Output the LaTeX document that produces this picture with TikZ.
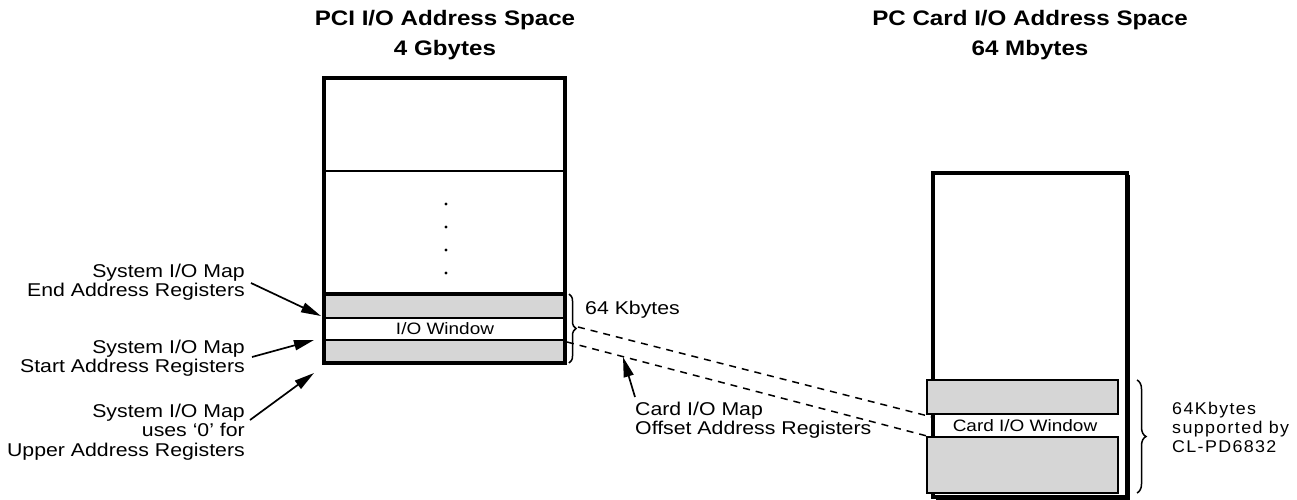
\documentclass[tikz,border=0pt]{standalone}
\usepackage{fontspec}
\setmainfont{Liberation Sans}
\newfontfamily\widefont[FakeStretch=1.15]{Liberation Sans}
\newfontfamily\spacedfont[LetterSpace=8,FakeStretch=1.05]{Liberation Sans}
\usetikzlibrary{arrows.meta,decorations.pathreplacing}
\begin{document}
\begin{tikzpicture}[x=1pt,y=-1pt,
  title/.style={font=\widefont\bfseries\fontsize{21}{30}\selectfont, align=center, inner sep=0pt},
  lbl/.style={font=\widefont\fontsize{18.5}{19.5}\selectfont, inner sep=0pt},
  winlbl/.style={font=\widefont\fontsize{16.5}{18}\selectfont, inner sep=0pt},
  outline/.style={draw=black, line width=3.2pt},
  band/.style={draw=black, line width=2.4pt, fill=black!16},
  divider/.style={draw=black, line width=2.4pt},
  pointer/.style={line width=1.7pt, -{Triangle[length=20pt,width=10pt]}},
  mapline/.style={line width=1.5pt, dash pattern=on 7pt off 6pt},
  bracestyle/.style={line width=1.5pt, decorate, decoration={brace, amplitude=7pt}}]
\useasboundingbox (0,0) rectangle (1297,499);

% ---- titles ----
\node[title] (pcititle) at (445,35) {PCI I/O Address Space\\4 Gbytes};
\node[title] (cardtitle) at (1030,35) {PC Card I/O Address Space\\64 Mbytes};

% ---- PCI I/O address space ----
\draw[outline, fill=white] (324,78) rectangle (565,363);
\draw[divider] (324,171) -- (565,171);
\foreach \y in {204,227,250,273} \fill (446,\y) circle (1.7pt);
\draw[band] (324,294) rectangle (565,318);
\draw[divider, fill=white] (324,318) rectangle (565,340);
\draw[band] (324,340) rectangle (565,363);
\draw[outline] (324,294) rectangle (565,363);
\node[winlbl] (iowin) at (445,329) {I/O Window};

\coordinate (endreg) at (321,316);
\coordinate (startreg) at (314,340);
\coordinate (upperreg) at (314,373);

% ---- PC Card I/O address space ----
\draw[outline, fill=white] (933,173) rectangle (1127,497);
\draw[line width=2pt] (936,498.5) -- (1129,498.5) -- (1129,175);
\draw[band, line width=2pt] (927,380) rectangle (1118,414);
\draw[band, line width=2pt] (927,437) rectangle (1118,493);
\node[winlbl] (cardwin) at (1025,426) {Card I/O Window};

% ---- size braces ----
\draw[bracestyle] (569,294) -- (569,363);
\coordinate (pcibrace) at (578,327);
\coordinate (pcilow) at (567,342);
\node[lbl, anchor=west] (kb) at (585,310) {64 Kbytes};

\draw[bracestyle, decoration={brace, amplitude=9pt}] (1137,380) -- (1137,493);
\node[anchor=west, align=left, inner sep=0pt, font=\spacedfont\fontsize{17}{19}\selectfont]
  (kbcard) at (1172,427) {64Kbytes\\supported by\\CL-PD6832};

% ---- card window mapping ----
\coordinate (cardtop) at (932,417);
\coordinate (cardlow) at (927,436);
\draw[mapline] (pcibrace) -- (cardtop);
\draw[mapline] (pcilow) -- (cardlow);

% ---- register labels ----
\node[lbl, anchor=east, align=right] (endlbl) at (245,282) {System I/O Map\\End Address Registers};
\node[lbl, anchor=east, align=right] (startlbl) at (245,358) {System I/O Map\\Start Address Registers};
\node[lbl, anchor=east, align=right] (upperlbl) at (245,432) {System I/O Map\\uses ‘0’ for\\Upper Address Registers};
\node[lbl, anchor=west, align=left] (offlbl) at (635,420) {Card I/O Map\\Offset Address Registers};

\draw[pointer] (251,283) -- (endreg);
\draw[pointer] (252,357) -- (startreg);
\draw[pointer] (250,420) -- (upperreg);
\coordinate (offsetpt) at (623,357);
\draw[pointer] (635,397) -- (offsetpt);
\end{tikzpicture}
\end{document}
